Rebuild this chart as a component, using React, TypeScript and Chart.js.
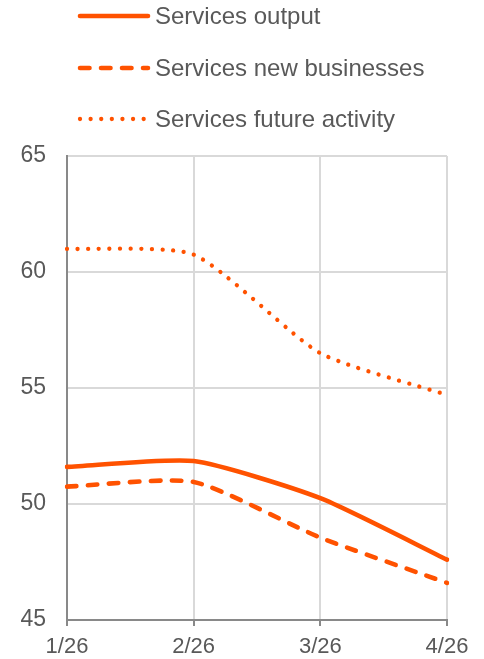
import React, { useEffect, useRef } from "react";
import { Chart, registerables } from "chart.js";

Chart.register(...registerables);

// ---- data ----
const categories = ["1/26", "2/26", "3/26", "4/26"];
const seriesNames = ["Services output", "Services new businesses", "Services future activity"];
const servicesOutput = [51.6, 51.85, 50.25, 47.6];
const servicesNewBusinesses = [50.75, 50.95, 48.55, 46.6];
const servicesFutureActivity = [61.0, 60.75, 56.5, 54.7];
const yMin = 45;
const yMax = 65;
const yStep = 5;

// ---- styles ----
const ORANGE = "#FF5200";
const TEXT = "#595959";
const GRID = "#D9D9D9";
const AXIS = "#898989";
const FONT = '"Liberation Sans", Arial, sans-serif';

const lineStyles = [
  { width: 4.6, dash: [] as number[] },
  { width: 4.6, dash: [9.5, 11.5] },
  { width: 4.3, dash: [0.01, 10.6] },
];

const seriesData = [servicesOutput, servicesNewBusinesses, servicesFutureActivity];

function LegendRow({ idx, cy }: { idx: number; cy: number }) {
  const st = lineStyles[idx];
  return (
    <div
      style={{
        position: "absolute",
        left: 0,
        top: cy - 15,
        height: 30,
        width: 484,
      }}
    >
      <svg
        width={90}
        height={30}
        style={{ position: "absolute", left: 70, top: 0 }}
      >
        <line
          x1={10}
          y1={15}
          x2={78}
          y2={15}
          stroke={ORANGE}
          strokeWidth={st.width}
          strokeLinecap="round"
          strokeDasharray={st.dash.length ? st.dash.join(" ") : undefined}
        />
      </svg>
      <span
        style={{
          position: "absolute",
          left: 155,
          top: 0,
          lineHeight: "30px",
          fontSize: 24,
          fontFamily: FONT,
          color: TEXT,
          whiteSpace: "nowrap",
        }}
      >
        {seriesNames[idx]}
      </span>
    </div>
  );
}

export default function App() {
  const canvasRef = useRef<HTMLCanvasElement | null>(null);

  useEffect(() => {
    if (!canvasRef.current) return;
    const chart = new Chart(canvasRef.current, {
      type: "line",
      data: {
        labels: categories,
        datasets: seriesData.map((d, i) => ({
          label: seriesNames[i],
          data: d,
          borderColor: ORANGE,
          backgroundColor: ORANGE,
          borderWidth: lineStyles[i].width,
          borderDash: lineStyles[i].dash,
          borderCapStyle: "round" as const,
          borderJoinStyle: "round" as const,
          pointRadius: 0,
          pointHoverRadius: 0,
          tension: 0.2,
          fill: false,
        })),
      },
      options: {
        responsive: false,
        animation: false,
        layout: { padding: { top: 156, right: 37, left: 0, bottom: 0 } },
        plugins: {
          legend: { display: false },
          tooltip: { enabled: false },
        },
        scales: {
          x: {
            type: "category",
            offset: false,
            grid: {
              color: GRID,
              lineWidth: 2,
              drawTicks: true,
              tickLength: 6,
              tickColor: AXIS,
              tickWidth: 2,
            },
            border: { color: AXIS, width: 2 },
            ticks: {
              color: TEXT,
              font: { family: FONT, size: 22 },
              padding: 8,
              maxRotation: 0,
              autoSkip: false,
            },
            afterFit: (s: any) => {
              s.height = 39;
            },
          },
          y: {
            min: yMin,
            max: yMax,
            grid: { color: GRID, lineWidth: 2, drawTicks: false },
            border: { color: AXIS, width: 2 },
            ticks: {
              stepSize: yStep,
              color: TEXT,
              font: { family: FONT, size: 23 },
              padding: 21,
            },
            afterFit: (s: any) => {
              s.width = 67;
            },
          },
        },
      },
    });
    return () => chart.destroy();
  }, []);

  return (
    <div style={{ position: "absolute", left: 0, top: 0, width: 484, height: 659 }}>
      <canvas
        ref={canvasRef}
        width={484}
        height={659}
        style={{ position: "absolute", left: 0, top: 0, display: "block" }}
      />
      <LegendRow idx={0} cy={16} />
      <LegendRow idx={1} cy={68} />
      <LegendRow idx={2} cy={119} />
    </div>
  );
}
